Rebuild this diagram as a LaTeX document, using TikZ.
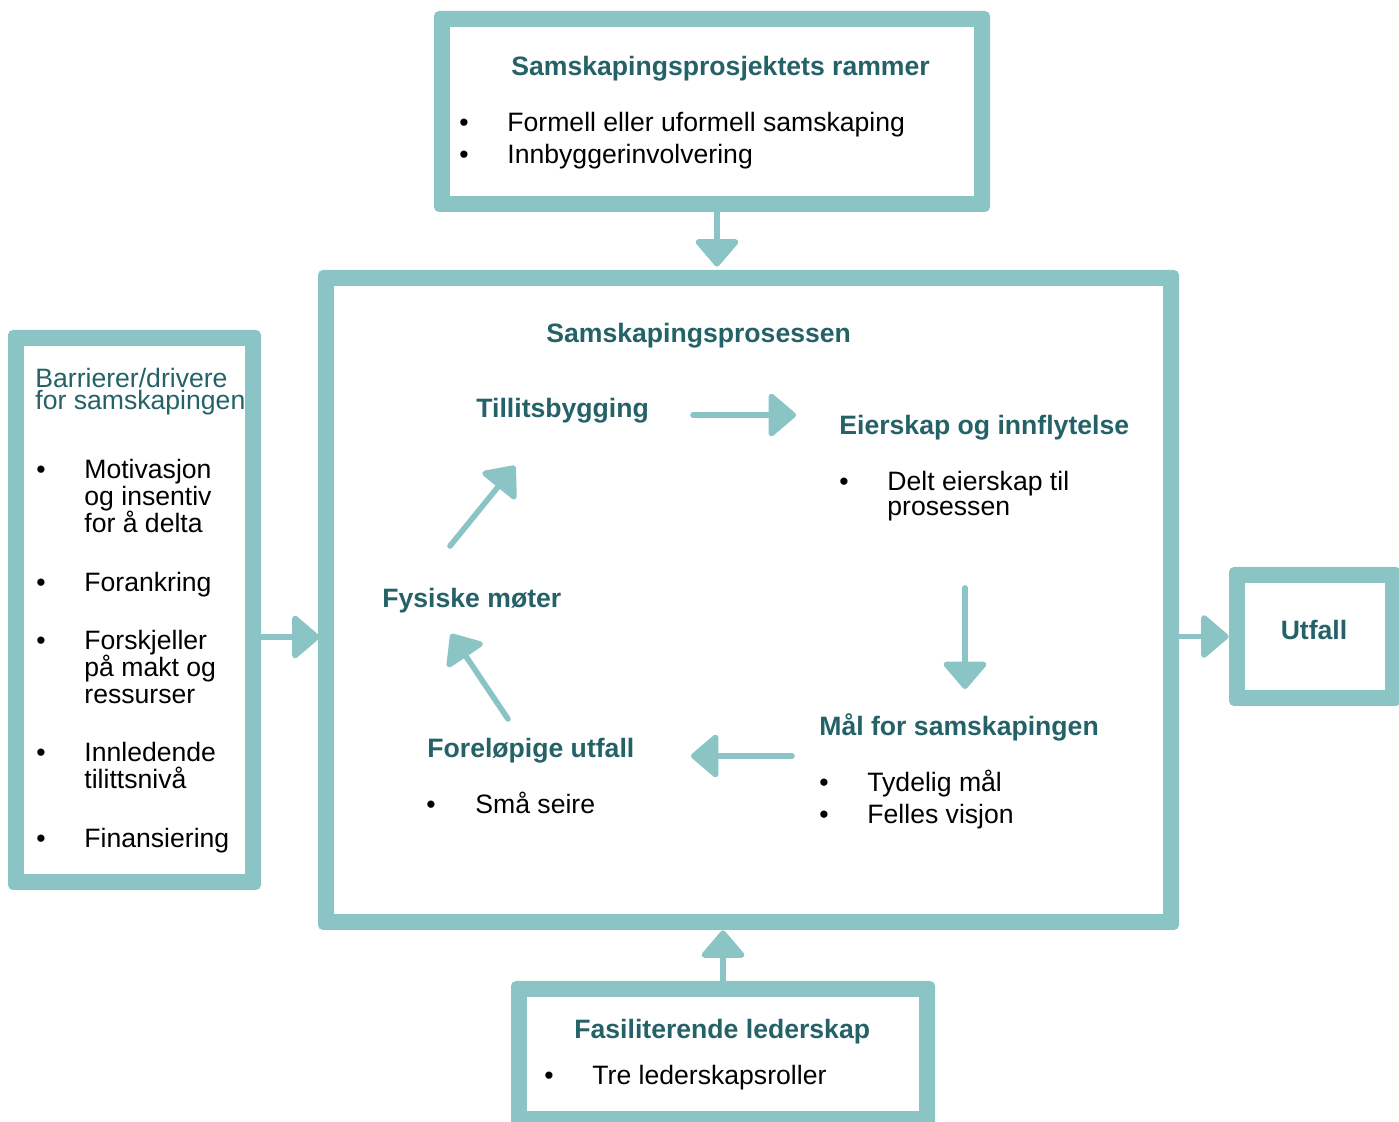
\documentclass[tikz,border=0pt]{standalone}
\usepackage{fontspec}
\setmainfont{Liberation Sans}
\usetikzlibrary{arrows.meta,calc}
\definecolor{frame}{RGB}{138,196,196}
\definecolor{ttl}{RGB}{36,98,104}
\begin{document}
\begin{tikzpicture}[x=0.5pt,y=-0.5pt,
  boxouter/.style={fill=frame, rounded corners=2.5pt, inner sep=0pt},
  txt/.style={anchor=base west, inner sep=0pt, font=\fontsize{13.3pt}{16pt}\selectfont, text=black},
  ttltxt/.style={txt, font=\fontsize{13.3pt}{16pt}\selectfont\bfseries, text=ttl},
  ttlnorm/.style={txt, text=ttl},
  arr/.style={draw=frame, line width=2.8pt, line cap=round, -{Triangle[width=24pt,length=14.5pt,round]}}]
\useasboundingbox (0,0) rectangle (1399,1122);

% boxes
\node[boxouter, minimum width=278pt, minimum height=100.5pt] (top) at (712,111.5) {};
\fill[white] ([shift={(8pt,-8pt)}]top.north west) rectangle ([shift={(-8pt,8pt)}]top.south east);
\node[boxouter, minimum width=430.5pt, minimum height=330pt] (main) at (748.5,600) {};
\fill[white] ([shift={(8pt,-8pt)}]main.north west) rectangle ([shift={(-8pt,8pt)}]main.south east);
\node[boxouter, minimum width=126.5pt, minimum height=280pt] (left) at (134.5,610) {};
\fill[white] ([shift={(8pt,-8pt)}]left.north west) rectangle ([shift={(-8pt,8pt)}]left.south east);
\node[boxouter, minimum width=86pt, minimum height=69.5pt] (utfall) at (1315,636.5) {};
\fill[white] ([shift={(8pt,-8pt)}]utfall.north west) rectangle ([shift={(-8pt,8pt)}]utfall.south east);
\node[boxouter, minimum width=212pt, minimum height=73pt] (bottom) at (723,1054) {};
\fill[white] ([shift={(8pt,-8pt)}]bottom.north west) rectangle ([shift={(-8pt,8pt)}]bottom.south east);

% outer arrows
\coordinate (ta) at ([xshift=2.5pt]top.south);
\draw[arr] (ta) -- ([yshift=1.5pt]ta |- main.north);
\coordinate (la) at ([yshift=-13.5pt]left.east);
\draw[arr] (la) -- ([xshift=1pt]la -| main.west);
\draw[arr] (utfall.west -| main.east) -- (utfall.west);
\draw[arr] (bottom.north) -- (bottom.north |- main.south);

% top box text
\node[ttltxt] (t1) at (511,76) {Samskapingsprosjektets rammer};
\node[txt] (t1b1) at (459,132) {•};
\node[txt] (t1i1) at (507,132) {Formell eller uformell samskaping};
\node[txt] (t1b2) at (459,164) {•};
\node[txt] (t1i2) at (507,164) {Innbyggerinvolvering};

% main box text
\node[ttltxt] (mt) at (546,343) {Samskapingsprosessen};
\node[ttltxt] (tillit) at (476,418) {Tillitsbygging};
\node[ttltxt] (eier) at (839,435) {Eierskap og innflytelse};
\node[txt] (eb1) at (839,491) {•};
\node[txt] (ei1) at (887,491) {Delt eierskap til};
\node[txt] (ei2) at (887,516) {prosessen};
\node[ttltxt] (fys) at (382,608) {Fysiske møter};
\node[ttltxt] (maal) at (819,736) {Mål for samskapingen};
\node[txt] (mb1) at (819,792) {•};
\node[txt] (mi1) at (867,792) {Tydelig mål};
\node[txt] (mb2) at (819,824) {•};
\node[txt] (mi2) at (867,824) {Felles visjon};
\node[ttltxt] (forel) at (427,758) {Foreløpige utfall};
\node[txt] (fb1) at (426,814) {•};
\node[txt] (fi1) at (475,814) {Små seire};

% inner arrows
\coordinate (a1s) at (693,415); \coordinate (a1e) at (796,415);
\coordinate (a2s) at (965,588); \coordinate (a2e) at (965,689);
\coordinate (a3s) at (792,756); \coordinate (a3e) at (691,756);
\coordinate (a4s) at (508,719); \coordinate (a4e) at (451,634);
\coordinate (a5s) at (450,546); \coordinate (a5e) at (515,466);
\draw[arr] (a1s) -- (a1e);
\draw[arr] (a2s) -- (a2e);
\draw[arr] (a3s) -- (a3e);
\draw[arr] (a4s) -- (a4e);
\draw[arr] (a5s) -- (a5e);

% left box text
\node[ttlnorm] (lt1) at (35,388) {Barrierer/drivere};
\node[ttlnorm] (lt2) at (35,410) {for samskapingen};
\node[txt] (lb1) at (36,479) {•};
\node[txt] (l1a) at (84,479) {Motivasjon};
\node[txt] (l1b) at (84,506) {og insentiv};
\node[txt] (l1c) at (84,533) {for å delta};
\node[txt] (lb2) at (36,592) {•};
\node[txt] (l2) at (84,592) {Forankring};
\node[txt] (lb3) at (36,650) {•};
\node[txt] (l3a) at (84,650) {Forskjeller};
\node[txt] (l3b) at (84,677) {på makt og};
\node[txt] (l3c) at (84,704) {ressurser};
\node[txt] (lb4) at (36,762) {•};
\node[txt] (l4a) at (84,762) {Innledende};
\node[txt] (l4b) at (84,789) {tilittsnivå};
\node[txt] (lb5) at (36,848) {•};
\node[txt] (l5) at (84,848) {Finansiering};

% utfall
\node[ttltxt, anchor=base] (ut) at (1314,640) {Utfall};

% bottom box
\node[ttltxt] (bt) at (574,1038) {Fasiliterende lederskap};
\node[txt] (bb1) at (544,1084) {•};
\node[txt] (bi1) at (592,1084) {Tre lederskapsroller};
\end{tikzpicture}
\end{document}
